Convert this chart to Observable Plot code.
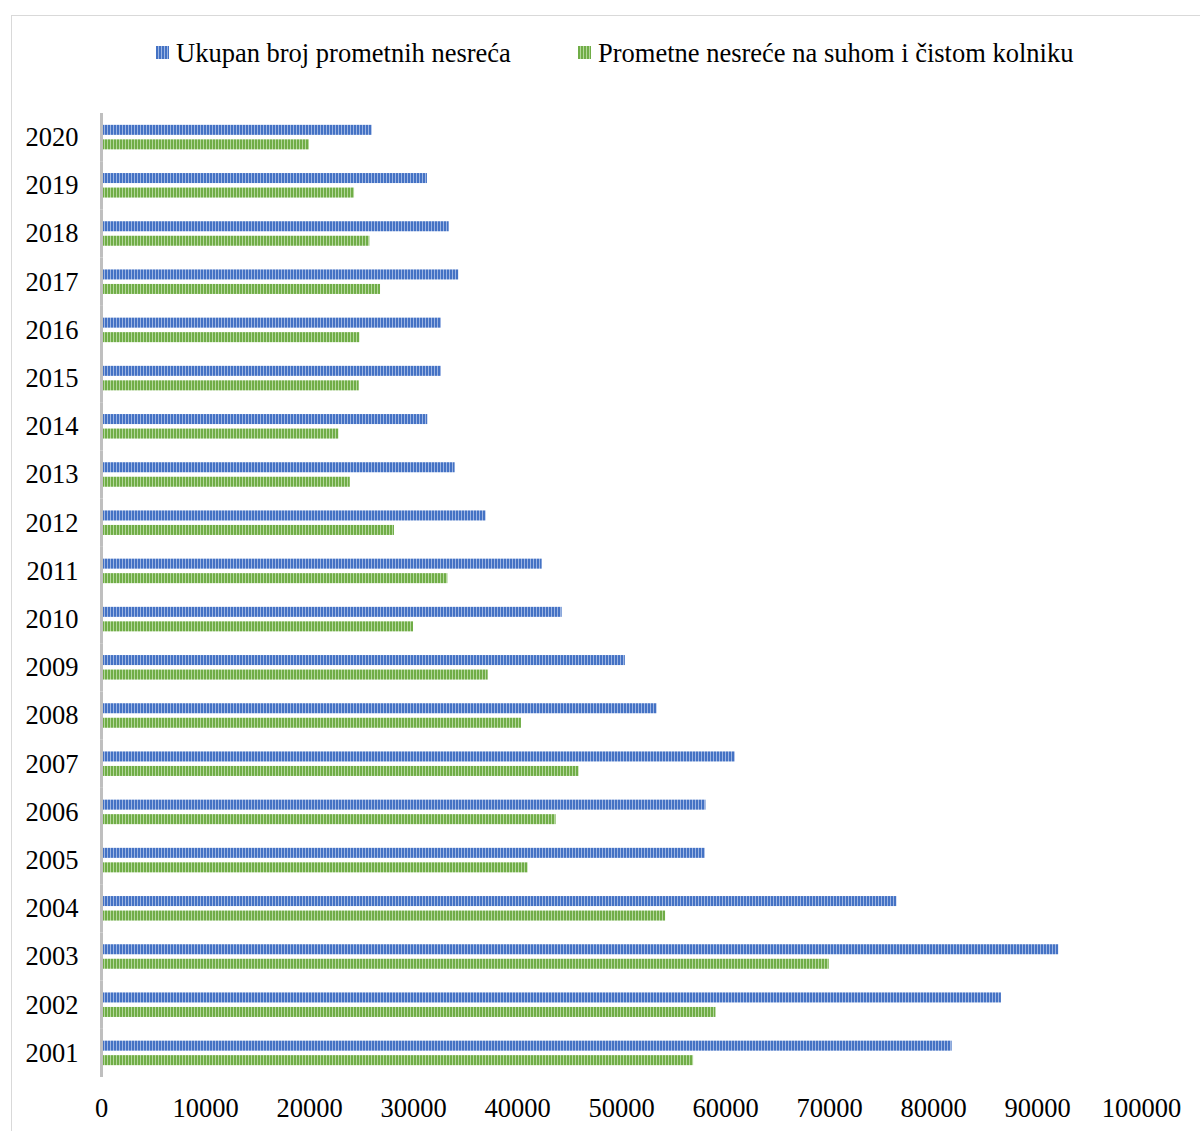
<!DOCTYPE html>
<html>
<head>
<meta charset="utf-8">
<script src="https://cdn.jsdelivr.net/npm/d3@7"></script>
<script src="https://cdn.jsdelivr.net/npm/@observablehq/plot@0.6"></script>
<style>
  body { margin: 0; background: #fff; font-family: "Liberation Serif", "Times New Roman", serif; }
  #wrap { position: relative; width: 1200px; height: 1131px; overflow: hidden; background: #fff; }
  #frame { position: absolute; left: 11px; top: 15px; width: 1400px; height: 1400px;
           border-left: 1px solid #d9d9d9; border-top: 1px solid #d9d9d9; pointer-events: none; }
  #legend { position: relative; height: 100px; }
  .item { position: absolute; top: 36px; font-size: 26.5px; line-height: 34px; white-space: nowrap; color: #000; }
  .sw { position: absolute; width: 13px; height: 13px; }
  #chart { display: block; }
</style>
</head>
<body>
<div id="wrap">
  <div id="frame"></div>
  <div id="legend"></div>
  <div id="chart"></div>
</div>
<script>
// ---- data ----
const years = ["2001","2002","2003","2004","2005","2006","2007","2008","2009","2010",
               "2011","2012","2013","2014","2015","2016","2017","2018","2019","2020"];
const seriesNames = ["Ukupan broj prometnih nesreća", "Prometne nesreće na suhom i čistom kolniku"];
const totalAccidents = [81790, 86530, 92040, 76480, 58060, 58120, 60940, 53420, 50370, 44290,
                        42370, 36980, 34000, 31370, 32690, 32690, 34350, 33430, 31340, 26030];
const dryCleanAccidents = [56930, 59080, 69970, 54240, 41020, 43710, 45920, 40380, 37180, 30000,
                           33300, 28170, 23920, 22820, 24780, 24840, 26830, 25800, 24330, 20000];
const xTicks = [0, 10000, 20000, 30000, 40000, 50000, 60000, 70000, 80000, 90000, 100000];

const colors = {
  total: { dark: "#4472c4", light: "#9db5e3" },
  dry:   { dark: "#70ad47", light: "#b4d79c" }
};

const rows = [];
years.forEach((y, i) => {
  rows.push({ year: y, series: "total", value: totalAccidents[i] });
  rows.push({ year: y, series: "dry", value: dryCleanAccidents[i] });
});

// ---- legend ----
const legend = document.getElementById("legend");
const legendItems = [
  { key: "total", name: seriesNames[0], left: 156 },
  { key: "dry", name: seriesNames[1], left: 578 }
];
legendItems.forEach(it => {
  const sw = document.createElement("div");
  sw.className = "sw";
  sw.style.left = it.left + "px";
  sw.style.top = "46px";
  const c = colors[it.key];
  sw.style.background = `repeating-linear-gradient(90deg, ${c.dark} 0px, ${c.dark} 2px, ${c.light} 2px, ${c.light} 3px)`;
  legend.appendChild(sw);
  const t = document.createElement("div");
  t.className = "item";
  t.style.left = (it.left + 20) + "px";
  t.textContent = it.name;
  legend.appendChild(t);
});

// ---- chart ----
const chart = Plot.plot({
  width: 1200,
  height: 1031,
  marginTop: 13,
  marginBottom: 54,
  marginLeft: 101,
  marginRight: 59,
  style: { fontFamily: "Liberation Serif, Times New Roman, serif", fontSize: "26.5px", color: "#000", background: "transparent" },
  x: { domain: [0, 100000], ticks: xTicks, tickFormat: d => String(d), tickSize: 0, tickPadding: 21, label: null },
  y: { domain: ["total", "dry"], axis: null, paddingInner: 0.31, paddingOuter: 0.817, round: false },
  fy: { domain: years.slice().reverse(), padding: 0, round: false, tickSize: 0, tickPadding: 23, label: null, axis: "left" },
  marks: [
    Plot.barX(rows.filter(d => d.series === "total"), { x: "value", y: "series", fy: "year", fill: "url(#stripe-total)" }),
    Plot.barX(rows.filter(d => d.series === "dry"), { x: "value", y: "series", fy: "year", fill: "url(#stripe-dry)" }),
    Plot.ruleX([0], { stroke: "#bfbfbf", strokeWidth: 3 })
  ]
});

// add stripe patterns
const defs = d3.select(chart).insert("defs", ":first-child");
Object.entries(colors).forEach(([k, c]) => {
  const p = defs.append("pattern")
    .attr("id", "stripe-" + k)
    .attr("patternUnits", "userSpaceOnUse")
    .attr("width", 3).attr("height", 10);
  p.append("rect").attr("width", 3).attr("height", 10).attr("fill", c.light);
  p.append("rect").attr("width", 2).attr("height", 10).attr("fill", c.dark);
});

document.getElementById("chart").appendChild(chart);
</script>
</body>
</html>
